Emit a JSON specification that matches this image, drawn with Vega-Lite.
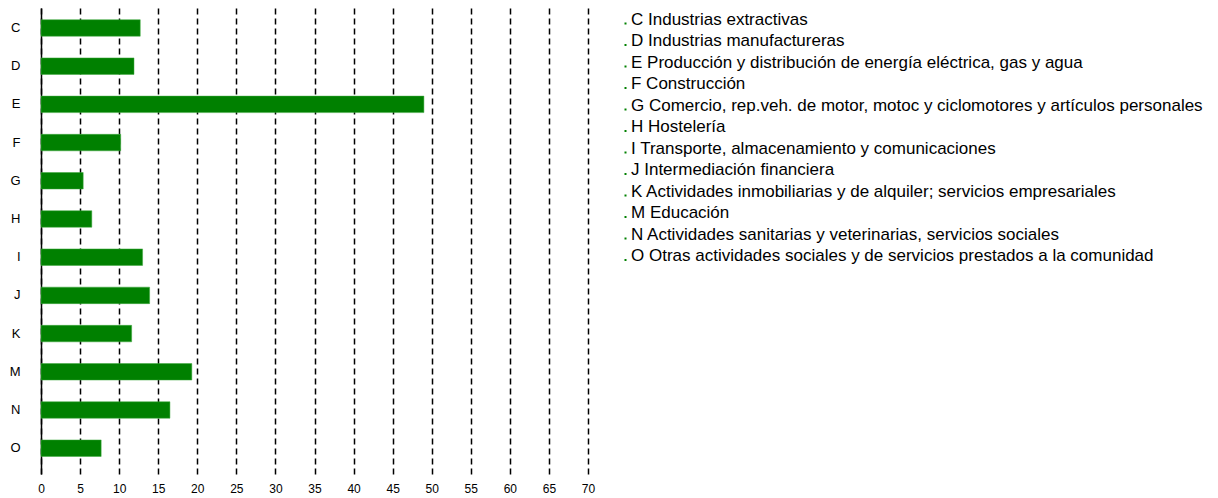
{
  "$schema": "https://vega.github.io/schema/vega-lite/v6.json",
  "autosize": {"type": "none"},
  "padding": {"left": 41, "top": 8, "right": 630, "bottom": 24},
  "width": 547,
  "height": 466,
  "background": "white",
  "data": {
    "values": [
      {"codigo": "C", "sector": "C Industrias extractivas", "valor": 12.7},
      {"codigo": "D", "sector": "D Industrias manufactureras", "valor": 11.9},
      {"codigo": "E", "sector": "E Producción y distribución de energía eléctrica, gas y agua", "valor": 49.0},
      {"codigo": "F", "sector": "F Construcción", "valor": 10.2},
      {"codigo": "G", "sector": "G Comercio, rep.veh. de motor, motoc y ciclomotores y artículos personales", "valor": 5.4},
      {"codigo": "H", "sector": "H Hostelería", "valor": 6.5},
      {"codigo": "I", "sector": "I Transporte, almacenamiento y comunicaciones", "valor": 13.0},
      {"codigo": "J", "sector": "J Intermediación financiera", "valor": 13.9},
      {"codigo": "K", "sector": "K Actividades inmobiliarias y de alquiler; servicios empresariales", "valor": 11.6},
      {"codigo": "M", "sector": "M Educación", "valor": 19.3},
      {"codigo": "N", "sector": "N Actividades sanitarias y veterinarias, servicios sociales", "valor": 16.5},
      {"codigo": "O", "sector": "O Otras actividades sociales y de servicios prestados a la comunidad", "valor": 7.7}
    ]
  },
  "mark": {"type": "bar", "stroke": "#3fa83f", "strokeWidth": 0.5},
  "encoding": {
    "y": {
      "field": "codigo",
      "type": "nominal",
      "sort": null,
      "title": null,
      "scale": {"paddingInner": 0.568, "paddingOuter": 0.383, "align": 0.4},
      "axis": {
        "ticks": false,
        "labelPadding": 21,
        "labelFont": "Liberation Sans",
        "labelFontSize": 13,
        "labelColor": "black",
        "domainColor": "black",
        "domainWidth": 1.5,
        "grid": false
      }
    },
    "x": {
      "field": "valor",
      "type": "quantitative",
      "title": null,
      "scale": {"domain": [0, 70], "nice": false},
      "axis": {
        "values": [0, 5, 10, 15, 20, 25, 30, 35, 40, 45, 50, 55, 60, 65, 70],
        "domain": false,
        "ticks": false,
        "labelPadding": 9,
        "labelFont": "Liberation Sans",
        "labelFontSize": 12,
        "labelColor": "black",
        "labelFlush": false,
        "grid": true,
        "gridColor": "black",
        "gridOpacity": 1,
        "gridWidth": 1.5,
        "gridDash": [6, 4]
      }
    },
    "color": {
      "field": "sector",
      "type": "nominal",
      "sort": null,
      "scale": {"range": ["#008000", "#008000", "#008000", "#008000", "#008000", "#008000", "#008000", "#008000", "#008000", "#008000", "#008000", "#008000"]},
      "legend": {
        "title": null,
        "orient": "none",
        "legendX": 576,
        "legendY": 3,
        "padding": 0,
        "symbolType": "M-0.2,0.6L0.2,0.6L0.2,1L-0.2,1Z",
        "symbolSize": 100,
        "symbolStrokeWidth": 0,
        "labelFont": "Liberation Sans",
        "labelFontSize": 17,
        "labelColor": "black",
        "labelOffset": -3,
        "labelLimit": 1000,
        "rowPadding": 3.5
      }
    }
  },
  "config": {"view": {"stroke": null}}
}
